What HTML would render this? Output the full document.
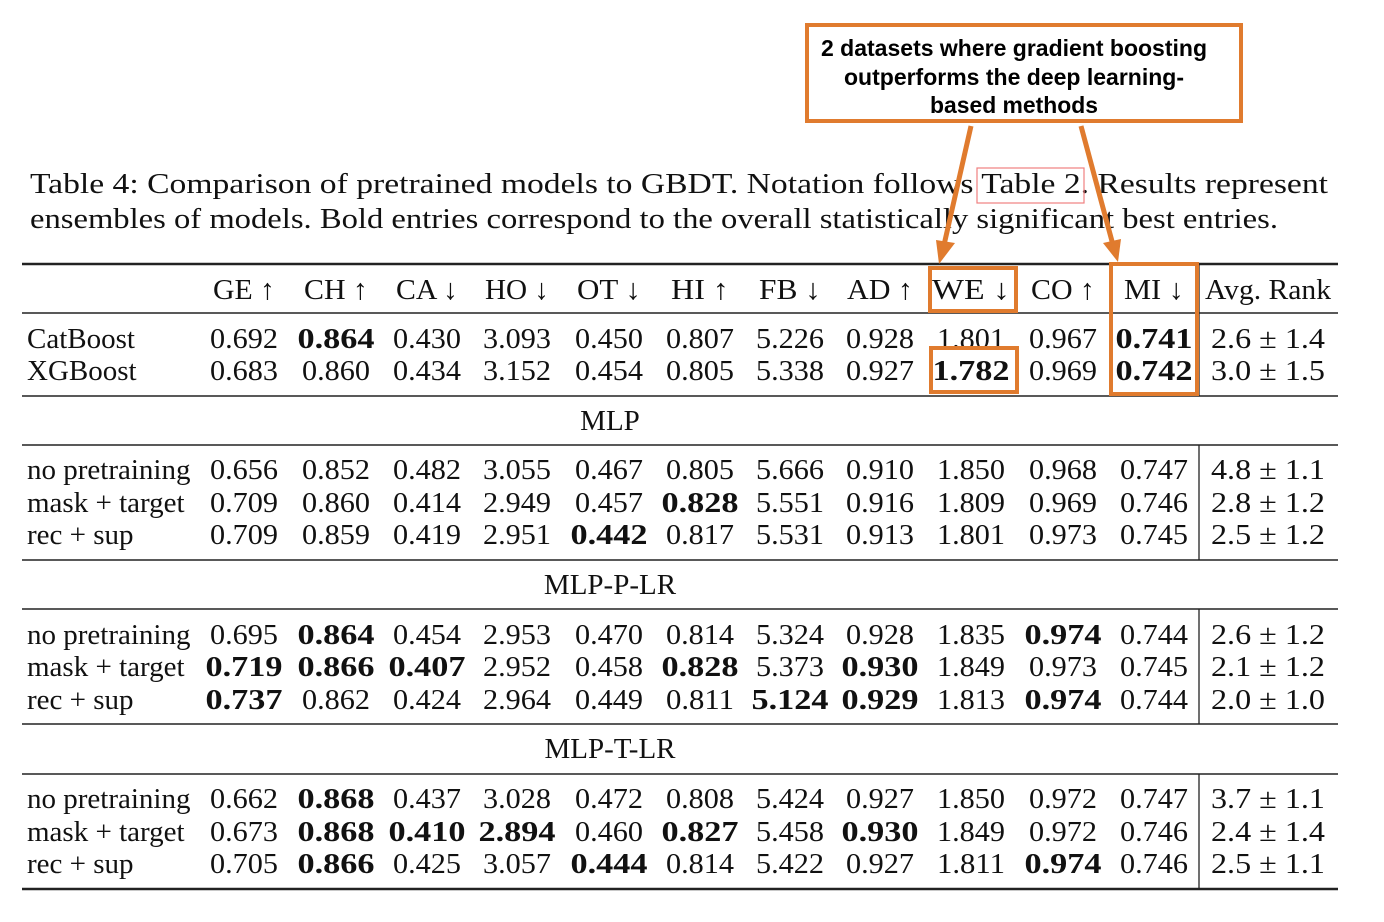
<!DOCTYPE html>
<html><head><meta charset="utf-8"><style>
html,body{margin:0;padding:0;background:#fff;}
svg{display:block;font-family:"Liberation Serif",serif;}
</style></head><body>
<svg id="s" width="1384" height="922" viewBox="0 0 1384 922" xmlns="http://www.w3.org/2000/svg">
<g font-size="29" fill="#111">
<text x="30" y="193" textLength="1298" lengthAdjust="spacingAndGlyphs">Table 4: Comparison of pretrained models to GBDT. Notation follows Table 2. Results represent</text>
<text x="30" y="228" textLength="1248" lengthAdjust="spacingAndGlyphs">ensembles of models. Bold entries correspond to the overall statistically significant best entries.</text>
</g>
<rect x="977" y="168" width="107" height="35" fill="none" stroke="#f08080" stroke-width="1.2"/>
<g id="tbl"></g>
<g>
<rect x="807" y="25" width="434" height="96" fill="#fff" stroke="#e07b2e" stroke-width="4"/>
<g font-family="Liberation Sans, sans-serif" font-weight="bold" font-size="23" text-anchor="middle" fill="#000">
<text x="1014" y="56" textLength="386" lengthAdjust="spacingAndGlyphs">2 datasets where gradient boosting</text>
<text x="1014" y="85" textLength="340" lengthAdjust="spacingAndGlyphs">outperforms the deep learning-</text>
<text x="1014" y="113" textLength="168" lengthAdjust="spacingAndGlyphs">based methods</text>
</g>
<line x1="971" y1="126" x2="944" y2="245" stroke="#e07b2e" stroke-width="5"/>
<polygon points="936,240 955,243 939,264" fill="#e07b2e"/>
<line x1="1081" y1="126" x2="1113" y2="245" stroke="#e07b2e" stroke-width="5"/>
<polygon points="1103,243 1121,239 1118,262" fill="#e07b2e"/>
<rect x="930" y="268" width="86" height="43" fill="none" stroke="#e07b2e" stroke-width="4"/>
<rect x="931" y="348" width="86" height="44" fill="none" stroke="#e07b2e" stroke-width="4"/>
<rect x="1111" y="264" width="86" height="130" fill="none" stroke="#e07b2e" stroke-width="4"/>
</g>
</svg>
<script>
const columns=["GE ↑","CH ↑","CA ↓","HO ↓","OT ↓","HI ↑","FB ↓","AD ↑","WE ↓","CO ↑","MI ↓"];
const gbdtRows=["CatBoost","XGBoost"];
const gbdtVals=[["0.692","*0.864","0.430","3.093","0.450","0.807","5.226","0.928","1.801","0.967","*0.741","2.6 ± 1.4"],
["0.683","0.860","0.434","3.152","0.454","0.805","5.338","0.927","*1.782","0.969","*0.742","3.0 ± 1.5"]];
const sections=["MLP","MLP-P-LR","MLP-T-LR"];
const methodRows=["no pretraining","mask + target","rec + sup"];
const mlpVals=[["0.656","0.852","0.482","3.055","0.467","0.805","5.666","0.910","1.850","0.968","0.747","4.8 ± 1.1"],
["0.709","0.860","0.414","2.949","0.457","*0.828","5.551","0.916","1.809","0.969","0.746","2.8 ± 1.2"],
["0.709","0.859","0.419","2.951","*0.442","0.817","5.531","0.913","1.801","0.973","0.745","2.5 ± 1.2"]];
const plrVals=[["0.695","*0.864","0.454","2.953","0.470","0.814","5.324","0.928","1.835","*0.974","0.744","2.6 ± 1.2"],
["*0.719","*0.866","*0.407","2.952","0.458","*0.828","5.373","*0.930","1.849","0.973","0.745","2.1 ± 1.2"],
["*0.737","0.862","0.424","2.964","0.449","0.811","*5.124","*0.929","1.813","*0.974","0.744","2.0 ± 1.0"]];
const tlrVals=[["0.662","*0.868","0.437","3.028","0.472","0.808","5.424","0.927","1.850","0.972","0.747","3.7 ± 1.1"],
["0.673","*0.868","*0.410","*2.894","0.460","*0.827","5.458","*0.930","1.849","0.972","0.746","2.4 ± 1.4"],
["0.705","*0.866","0.425","3.057","*0.444","0.814","5.422","0.927","1.811","*0.974","0.746","2.5 ± 1.1"]];
const colX=[244,336,427,517,609,700,790,880,971,1063,1154,1268];
const NS="http://www.w3.org/2000/svg";
const g=document.getElementById('tbl');
function txt(x,y,s,anchor,name,len){
  let bold=false; if(s[0]==='*'){bold=true;s=s.slice(1);}
  const t=document.createElementNS(NS,'text');
  t.setAttribute('x',x);t.setAttribute('y',y);t.setAttribute('font-size','29');
  t.setAttribute('text-anchor',anchor);t.setAttribute('fill','#111');
  if(bold)t.setAttribute('font-weight','bold');
  if(len){t.setAttribute('textLength',bold?len+9:len);t.setAttribute('lengthAdjust','spacingAndGlyphs');}
  
  
  t.textContent=s;g.appendChild(t);
}
function rule(y,w){
  const l=document.createElementNS(NS,'line');
  l.setAttribute('x1',22);l.setAttribute('x2',1338);l.setAttribute('y1',y);l.setAttribute('y2',y);
  l.setAttribute('stroke','#222');l.setAttribute('stroke-width',w);
  
  
  g.appendChild(l);
}
function vline(y1,y2){
  const l=document.createElementNS(NS,'line');
  l.setAttribute('x1',1199);l.setAttribute('x2',1199);l.setAttribute('y1',y1);l.setAttribute('y2',y2);
  l.setAttribute('stroke','#222');l.setAttribute('stroke-width',1.3);
  
  
  g.appendChild(l);
}
rule(264,2.5);rule(313,1.5);rule(396,1.5);rule(445,1.5);rule(560,1.5);rule(609,1.5);rule(724,1.5);rule(774,1.5);rule(889,2.5);
vline(264,313);vline(313,396);vline(445,560);vline(609,724);vline(774,889);
const base=10;
const hdrLen=[62,64,62,64,64,58,62,66,78,64,60];
columns.forEach((c,i)=>txt(colX[i],289+base,c,'middle','column-header',hdrLen[i]));
txt(colX[11],289+base,'Avg. Rank','middle','column-header',126);
function cellLen(j){return j===11?114:68;}
const gy=[338,370];
gbdtRows.forEach((r,i)=>{txt(27,gy[i]+base,r,'start','row-label');gbdtVals[i].forEach((v,j)=>txt(colX[j],gy[i]+base,v,'middle','cell-value',cellLen(j)));});
const secY=[420,584,748];
const rowsY=[[469,502,534],[634,666,699],[798,831,863]];
[mlpVals,plrVals,tlrVals].forEach((vals,k)=>{
  txt(610,secY[k]+base,sections[k],'middle','section-title');
  methodRows.forEach((r,i)=>{txt(27,rowsY[k][i]+base,r,'start','row-label');vals[i].forEach((v,j)=>txt(colX[j],rowsY[k][i]+base,v,'middle','cell-value',cellLen(j)));});
});
</script>
</body></html>
